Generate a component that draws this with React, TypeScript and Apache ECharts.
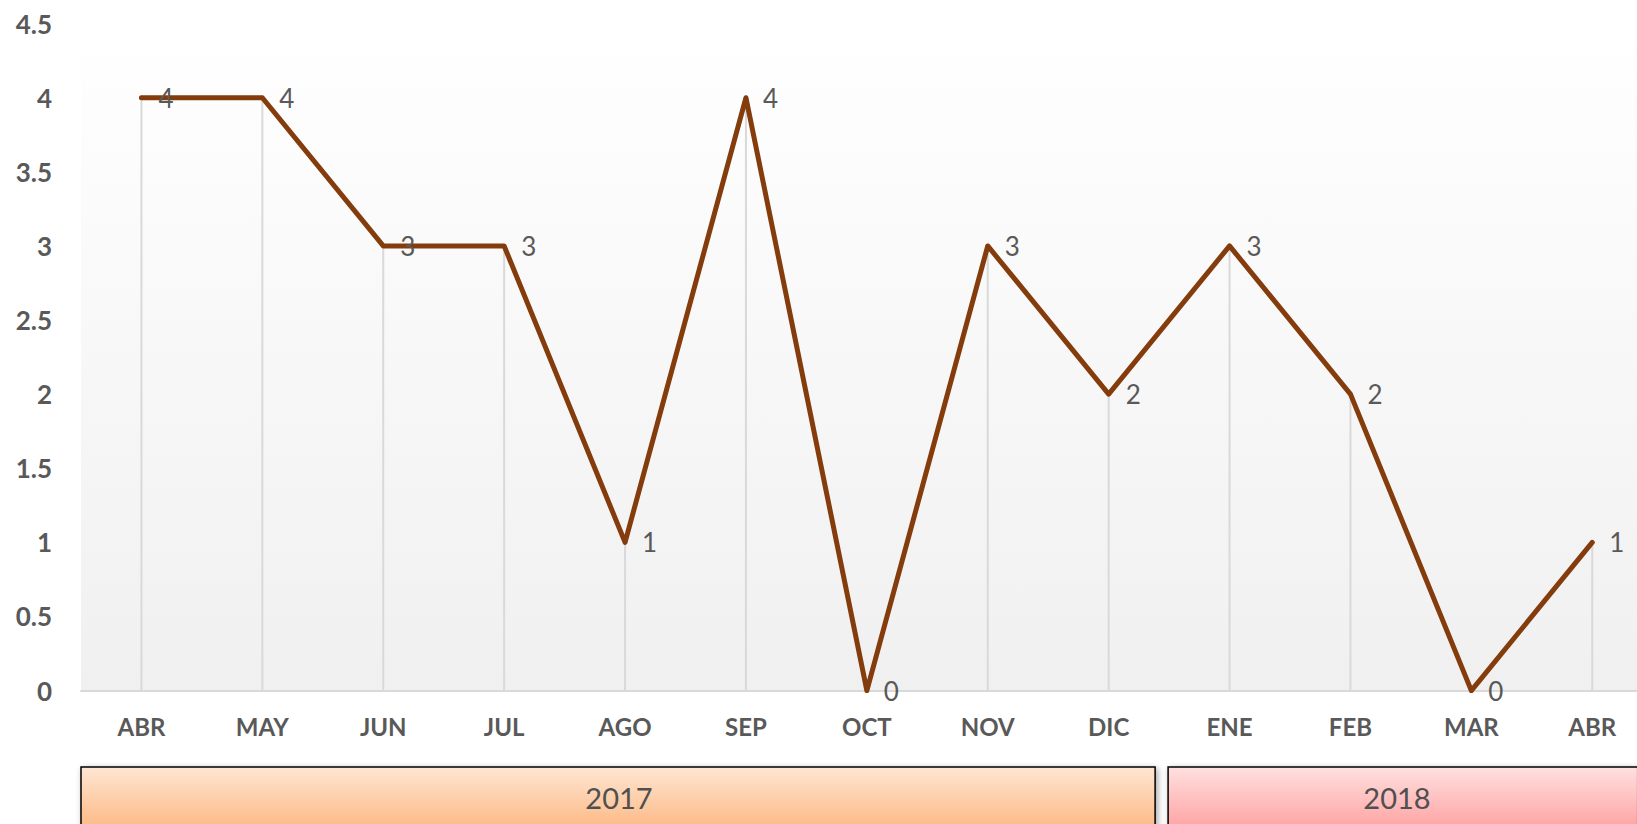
import React, { useEffect, useRef } from "react";
import * as echarts from "echarts";

const months = ["ABR", "MAY", "JUN", "JUL", "AGO", "SEP", "OCT", "NOV", "DIC", "ENE", "FEB", "MAR", "ABR"];
const values = [4, 4, 3, 3, 1, 4, 0, 3, 2, 3, 2, 0, 1];
const years = ["2017", "2018"];
const yearSpans = [9, 4];

export default function App() {
  const ref = useRef<HTMLDivElement>(null);
  useEffect(() => {
    if (!ref.current) return;
    const chart = echarts.init(ref.current, null, { renderer: "svg" });
    const font = "Lato, 'Open Sans', sans-serif";
    const gridLeft = 81;
    const step = 120.9;
    const gridWidth = step * months.length;
    const boxes: any[] = [];
    let start = 0;
    const grads = [
      ["#fee6d3", "#fdbd8c"],
      ["#ffe0e0", "#ffa8a8"],
    ];
    const textX = [619, 1397];
    years.forEach((y, i) => {
      const x0 = gridLeft + start * step + (i === 0 ? 0 : -1);
      const w = yearSpans[i] * step - 14;
      boxes.push({
        type: "rect",
        shape: { x: x0, y: 767, width: w, height: 80 },
        style: {
          fill: new echarts.graphic.LinearGradient(0, 0, 0, 1, [
            { offset: 0, color: grads[i][0] },
            { offset: 0.7, color: grads[i][1] },
            { offset: 1, color: grads[i][1] },
          ]),
          stroke: "#000",
          lineWidth: 1.5,
          shadowBlur: 6,
          shadowColor: "rgba(0,0,0,0.35)",
          shadowOffsetX: 2,
          shadowOffsetY: 2,
        },
      });
      boxes.push({
        type: "text",
        x: textX[i],
        y: 797,
        style: {
          text: y,
          fill: "#505050",
          font: `29px ${font}`,
          textAlign: "center",
          textVerticalAlign: "middle",
          shadowBlur: 2,
          shadowColor: "rgba(0,0,0,0.35)",
          shadowOffsetX: 1,
          shadowOffsetY: 1,
        },
      });
      start += yearSpans[i];
    });

    chart.setOption({
      animation: false,
      backgroundColor: "#ffffff",
      grid: {
        left: gridLeft,
        top: 23.6,
        width: gridWidth,
        height: 667,
        show: true,
        borderWidth: 0,
        backgroundColor: new echarts.graphic.LinearGradient(0, 0, 0, 1, [
          { offset: 0, color: "#ffffff" },
          { offset: 1, color: "#f0f0f0" },
        ]),
      },
      xAxis: {
        type: "category",
        data: months,
        boundaryGap: true,
        axisLine: { show: true, lineStyle: { color: "#d9d9d9", width: 2 } },
        axisTick: { show: false },
        axisLabel: {
          color: "#595959",
          fontFamily: font,
          fontWeight: "bold",
          fontSize: 24,
          margin: 24,
        },
        splitLine: { show: false },
      },
      yAxis: {
        type: "value",
        min: 0,
        max: 4.5,
        interval: 0.5,
        axisLine: { show: false },
        axisTick: { show: false },
        splitLine: { show: false },
        axisLabel: {
          color: "#595959",
          fontFamily: font,
          fontWeight: "bold",
          fontSize: 26,
          margin: 29,
        },
      },
      series: [
        {
          type: "bar",
          data: values,
          barWidth: 2,
          itemStyle: { color: "#d9d9d9" },
          silent: true,
          z: 1,
        },
        {
          type: "line",
          data: values,
          symbol: "circle",
          symbolSize: 4,
          showSymbol: true,
          itemStyle: { color: "#843c0c" },
          lineStyle: { color: "#843c0c", width: 5, cap: "round", join: "round" },
          label: {
            show: true,
            position: "right",
            distance: 15,
            offset: [0, 3],
            color: "#595959",
            fontFamily: font,
            fontSize: 26,
          },
          labelLayout: { hideOverlap: false },
          z: 3,
        },
      ],
      graphic: boxes,
    });
    return () => chart.dispose();
  }, []);
  return (
    <div style={{ position: "fixed", left: 0, top: 0, width: 1637, height: 824, overflow: "hidden" }}>
      <div ref={ref} style={{ width: 1680, height: 824 }} />
    </div>
  );
}
